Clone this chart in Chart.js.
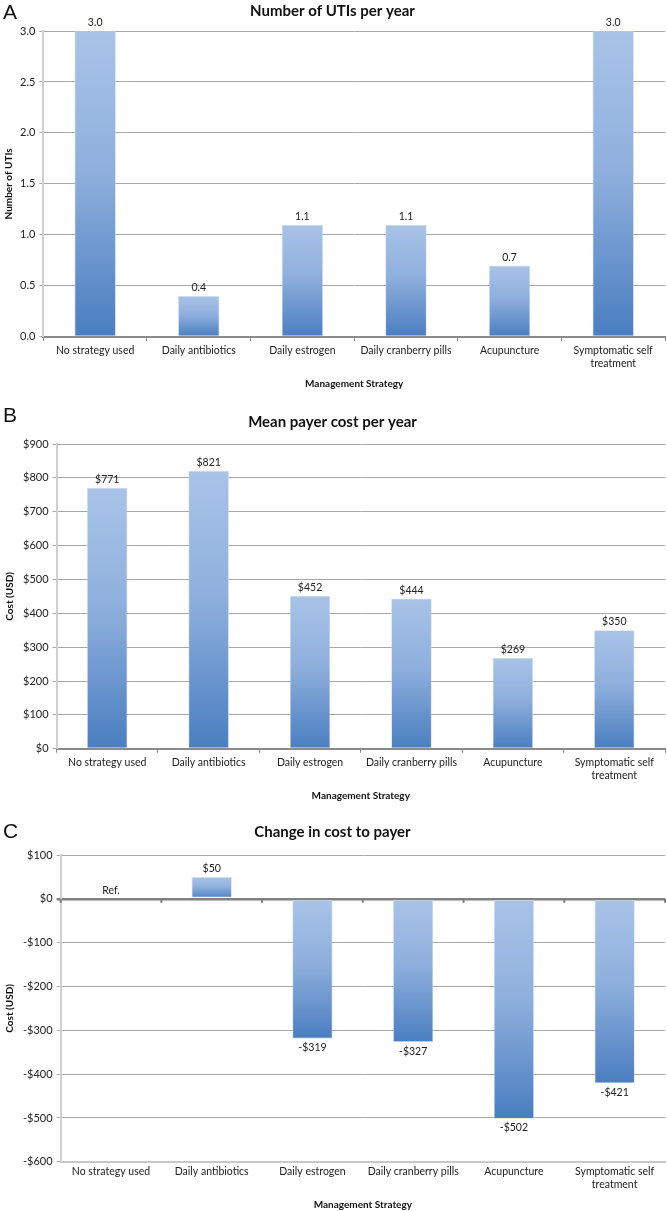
<!DOCTYPE html>
<html>
<head>
<meta charset="utf-8">
<script src="https://cdn.jsdelivr.net/npm/chart.js@4/dist/chart.umd.min.js"></script>
<style>
  body { margin: 0; background: #fff; }
  .panel { position: absolute; left: 0; width: 667px; }
  .letter { position: absolute; left: 3px; font: 21px "Liberation Sans", Arial, sans-serif; color: #111; }
</style>
</head>
<body>
<div class="panel" style="top:0px;height:397px"><canvas id="chartA" width="667" height="397"></canvas></div>
<div class="panel" style="top:397px;height:408px"><canvas id="chartB" width="667" height="408"></canvas></div>
<div class="panel" style="top:807px;height:404px"><canvas id="chartC" width="667" height="404"></canvas></div>
<div class="letter" style="top:0px">A</div>
<div class="letter" style="top:403px">B</div>
<div class="letter" style="top:819px">C</div>
<script>
// datos
const strategies = ['No strategy used', 'Daily antibiotics', 'Daily estrogen',
  'Daily cranberry pills', 'Acupuncture', ['Symptomatic self', 'treatment']];
const utisPerYear = [3.0, 0.4, 1.1, 1.1, 0.7, 3.0];
const payerCost = [771, 821, 452, 444, 269, 350];
const costChange = [0, 50, -319, -327, -502, -421];

const FONT = 'Lato, "Open Sans", sans-serif';

function money(v) {
  return (v < 0 ? '-$' : '$') + Math.abs(v);
}

// degradado claro arriba, oscuro abajo, para cada barra
function barFill(context) {
  const chart = context.chart;
  if (!chart.chartArea || context.type !== 'data') return '#7fa3d5';
  const y = chart.scales.y;
  const p1 = y.getPixelForValue(context.raw);
  const p0 = y.getPixelForValue(0);
  const top = Math.min(p0, p1), bottom = Math.max(p0, p1);
  if (bottom - top < 1) return '#7fa3d5';
  const g = chart.ctx.createLinearGradient(0, top, 0, bottom);
  g.addColorStop(0, '#a8c3e7');
  g.addColorStop(0.45, '#8fb0dd');
  g.addColorStop(1, '#4a7ec1');
  return g;
}

// etiquetas de valor encima/debajo de las barras
const valueLabels = {
  id: 'valueLabels',
  afterDatasetsDraw(chart, args, opts) {
    const ctx = chart.ctx;
    const data = chart.data.datasets[0].data;
    ctx.save();
    ctx.font = '10.5px ' + FONT;
    ctx.fillStyle = '#222';
    ctx.textAlign = 'center';
    chart.getDatasetMeta(0).data.forEach((bar, i) => {
      const text = opts.format(data[i], i);
      if (data[i] < 0) {
        ctx.textBaseline = 'top';
        ctx.fillText(text, bar.x, bar.y + 4);
      } else {
        ctx.textBaseline = 'bottom';
        ctx.fillText(text, bar.x, bar.y - 3);
      }
    });
    // marcas pequeñas sobre la línea del cero (panel C)
    if (opts.zeroTicks) {
      const xs = chart.scales.x, y0 = chart.scales.y.getPixelForValue(0);
      const step = (xs.right - xs.left) / chart.data.labels.length;
      ctx.strokeStyle = '#808080';
      ctx.lineWidth = 2;
      for (let i = 0; i <= chart.data.labels.length; i++) {
        const x = xs.left + i * step;
        ctx.beginPath();
        ctx.moveTo(x, y0);
        ctx.lineTo(x, y0 + 4);
        ctx.stroke();
      }
    }
    ctx.restore();
  }
};

function makeChart(id, values, cfg) {
  return new Chart(document.getElementById(id), {
    type: 'bar',
    data: {
      labels: strategies,
      datasets: [{
        data: values,
        backgroundColor: barFill,
        borderColor: 'rgba(200,215,235,0.8)',
        borderWidth: 0.8,
        borderSkipped: false,
        barPercentage: 0.4,
        categoryPercentage: 1.0
      }]
    },
    options: {
      responsive: false,
      animation: false,
      layout: { padding: { top: cfg.padTop, right: 2, left: 0, bottom: cfg.padBottom } },
      plugins: {
        legend: { display: false },
        tooltip: { enabled: false },
        title: {
          display: true,
          text: cfg.title,
          color: '#111',
          font: { family: FONT, size: 15, weight: 'bold' },
          padding: { top: 0, bottom: cfg.titleGap }
        },
        valueLabels: { format: cfg.labelFormat, zeroTicks: cfg.zeroLine }
      },
      scales: {
        x: {
          grid: {
            offset: true,
            drawOnChartArea: false,
            drawTicks: cfg.xTicks,
            tickLength: 4,
            color: '#888'
          },
          border: { color: cfg.xBorder, width: 2 },
          ticks: {
            color: '#222',
            font: { family: FONT, size: 10.5 },
            maxRotation: 0,
            autoSkip: false,
            padding: 4
          },
          title: {
            display: true,
            text: 'Management Strategy',
            color: '#111',
            font: { family: FONT, size: 10, weight: 'bold' },
            padding: { top: 4, bottom: 0 }
          }
        },
        y: {
          min: cfg.min,
          max: cfg.max,
          grid: {
            color: ctx => (cfg.zeroLine && ctx.tick && ctx.tick.value === 0) ? '#808080' : '#a8a8a8',
            lineWidth: ctx => (cfg.zeroLine && ctx.tick && ctx.tick.value === 0) ? 2.5 : 1,
            tickLength: 4
          },
          border: { color: '#d0d0d0', width: 2 },
          ticks: {
            stepSize: cfg.step,
            color: '#222',
            font: { family: FONT, size: 11 },
            padding: 4,
            callback: cfg.tickFormat
          },
          title: {
            display: true,
            text: cfg.yTitle,
            color: '#111',
            font: { family: FONT, size: 10, weight: 'bold' },
            padding: cfg.yTitlePad
          }
        }
      }
    },
    plugins: [valueLabels]
  });
}

makeChart('chartA', utisPerYear, {
  title: 'Number of UTIs per year',
  yTitle: 'Number of UTIs',
  min: 0, max: 3, step: 0.5,
  padTop: 2, padBottom: 7, titleGap: 11,
  yTitlePad: { top: 3, bottom: 1 },
  xTicks: true, xBorder: '#8a8a8a', zeroLine: false,
  tickFormat: v => v.toFixed(1),
  labelFormat: v => v.toFixed(1)
});

makeChart('chartB', payerCost, {
  title: 'Mean payer cost per year',
  yTitle: 'Cost (USD)',
  min: 0, max: 900, step: 100,
  padTop: 16, padBottom: 3, titleGap: 13,
  yTitlePad: { top: 4, bottom: 3 },
  xTicks: true, xBorder: '#8a8a8a', zeroLine: false,
  tickFormat: v => money(v),
  labelFormat: v => money(v)
});

makeChart('chartC', costChange, {
  title: 'Change in cost to payer',
  yTitle: 'Cost (USD)',
  min: -600, max: 100, step: 100,
  padTop: 16, padBottom: 0, titleGap: 14,
  yTitlePad: { top: 4, bottom: 3 },
  xTicks: false, xBorder: '#c8c8c8', zeroLine: true,
  tickFormat: v => money(v),
  labelFormat: (v, i) => (i === 0 && v === 0) ? 'Ref.' : money(v)
});
</script>
</body>
</html>
